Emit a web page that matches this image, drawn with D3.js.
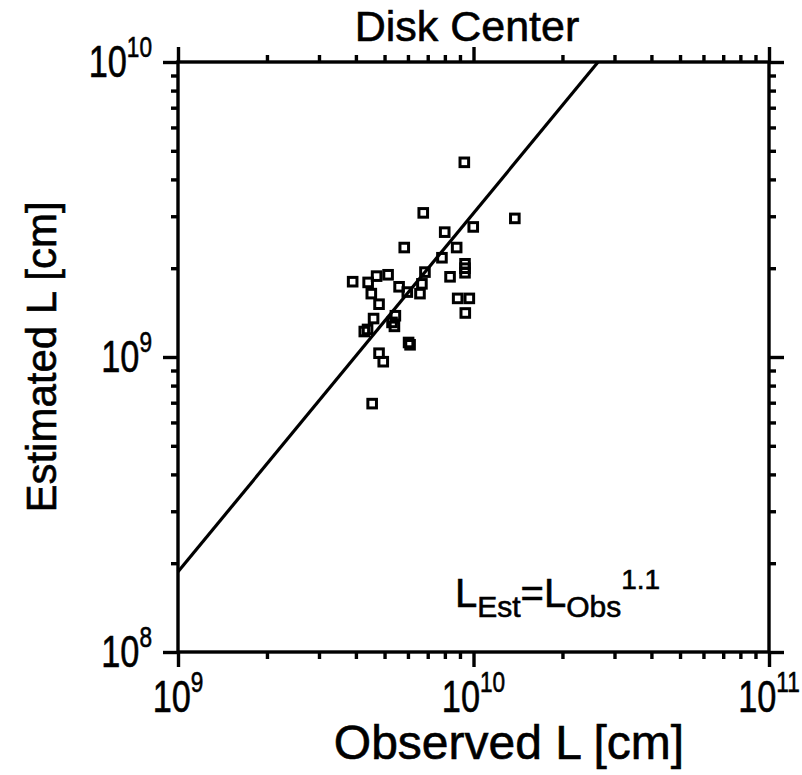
<!DOCTYPE html>
<html>
<head>
<meta charset="utf-8">
<script src="https://cdn.jsdelivr.net/npm/d3@7"></script>
<style>
  body { margin: 0; background: #fff; }
  text { font-family: "Liberation Sans", Arial, Helvetica, sans-serif; fill: #000;
         stroke: #000; stroke-width: 0.6px; }
</style>
</head>
<body>
<svg width="802" height="775"></svg>
<script>
// observed vs estimated loop length [cm]
const observedL = [9.31e9, 6.76e9, 1.38e10, 9.98e9, 7.99e9, 5.83e9, 8.77e9, 7.82e9,
  9.36e9, 9.36e9, 9.36e9, 6.85e9, 8.33e9, 3.90e9, 4.70e9, 5.14e9, 4.40e9, 5.60e9,
  6.69e9, 5.97e9, 6.59e9, 4.51e9, 4.79e9, 8.84e9, 9.68e9, 9.38e9, 4.59e9, 5.44e9,
  5.30e9, 5.40e9, 4.27e9, 4.38e9, 6.03e9, 6.10e9, 4.79e9, 4.95e9, 4.54e9];
const estimatedL = [4.57e9, 3.08e9, 2.95e9, 2.76e9, 2.65e9, 2.35e9, 2.35e9, 2.17e9,
  2.07e9, 2.00e9, 1.93e9, 1.94e9, 1.87e9, 1.80e9, 1.88e9, 1.90e9, 1.79e9, 1.73e9,
  1.77e9, 1.66e9, 1.64e9, 1.64e9, 1.51e9, 1.58e9, 1.58e9, 1.41e9, 1.35e9, 1.38e9,
  1.31e9, 1.27e9, 1.22e9, 1.24e9, 1.12e9, 1.10e9, 1.03e9, 9.64e8, 6.95e8];

// fit line end points
const fitObs = [1e9, 2.64e10];
const fitEst = [1.87e8, 1e10];

const xMajor = [1e9, 1e10, 1e11];
const yMajor = [1e8, 1e9, 1e10];

const svg = d3.select("svg");
const x = d3.scaleLog().domain([1e9, 1e11]).range([178, 769]);
const y = d3.scaleLog().domain([1e8, 1e10]).range([652, 62]);

// minor ticks 2..9 in each decade
function minors(dom) {
  const out = [];
  for (let e = Math.log10(dom[0]); e < Math.log10(dom[1]); e++)
    for (let k = 2; k < 10; k++) out.push(k * Math.pow(10, e));
  return out;
}

function drawAxis(gen, tx, ty, vals, size) {
  const g = svg.append("g").attr("transform", `translate(${tx},${ty})`)
    .call(gen.tickValues(vals).tickSize(size).tickSizeOuter(0).tickFormat(""));
  g.select(".domain").remove();
  g.selectAll("line").attr("stroke", "#000").attr("stroke-width", 3.4);
}

[[d3.axisBottom(x), 0, 652], [d3.axisTop(x), 0, 62]].forEach(a => {
  drawAxis(a[0], a[1], a[2], minors(x.domain()), 7);
  drawAxis(a[0], a[1], a[2], xMajor, 15);
});
[[d3.axisLeft(y), 178, 0], [d3.axisRight(y), 769, 0]].forEach(a => {
  drawAxis(a[0], a[1], a[2], minors(y.domain()), 7);
  drawAxis(a[0], a[1], a[2], yMajor, 15);
});

// frame
svg.append("rect")
  .attr("x", x.range()[0]).attr("y", y.range()[1])
  .attr("width", x.range()[1] - x.range()[0])
  .attr("height", y.range()[0] - y.range()[1])
  .attr("fill", "none").attr("stroke", "#000").attr("stroke-width", 3.4);

// tick labels (narrow face, like the original)
const fs = 44, sup = 29, sx = 0.78;
xMajor.forEach(v => {
  const e = Math.round(Math.log10(v));
  const g = svg.append("g").attr("transform", `translate(${x(v)},712) scale(${sx},1)`);
  const t = g.append("text").attr("text-anchor", "middle").attr("font-size", fs);
  t.append("tspan").text("10");
  t.append("tspan").attr("font-size", sup).attr("dy", -20).text(e);
});
yMajor.forEach(v => {
  const e = Math.round(Math.log10(v));
  const g = svg.append("g").attr("transform", `translate(152,${y(v) + 15}) scale(${sx},1)`);
  const t = g.append("text").attr("text-anchor", "end").attr("font-size", fs);
  t.append("tspan").text("10");
  t.append("tspan").attr("font-size", sup).attr("dy", -20).text(e);
});

// fit line
svg.append("path")
  .datum(fitObs.map((o, i) => [o, fitEst[i]]))
  .attr("d", d3.line().x(d => x(d[0])).y(d => y(d[1])))
  .attr("fill", "none").attr("stroke", "#000").attr("stroke-width", 3.2);

// data squares
svg.append("g").selectAll("rect")
  .data(observedL.map((o, i) => [o, estimatedL[i]]))
  .join("rect")
  .attr("x", d => x(d[0]) - 4.3).attr("y", d => y(d[1]) - 4.3)
  .attr("width", 8.6).attr("height", 8.6)
  .attr("fill", "none").attr("stroke", "#000").attr("stroke-width", 3);

// titles
svg.append("text").attr("x", 467).attr("y", 41).attr("text-anchor", "middle")
  .attr("font-size", 43).text("Disk Center");
svg.append("text").attr("x", 509).attr("y", 759).attr("text-anchor", "middle")
  .attr("font-size", 48).text("Observed L [cm]");
svg.append("text").attr("transform", "translate(56,357) rotate(-90)")
  .attr("text-anchor", "middle").attr("font-size", 42).text("Estimated L [cm]");

// relation label
const lab = svg.append("text").attr("x", 455).attr("y", 607).attr("font-size", 40);
lab.append("tspan").text("L");
lab.append("tspan").attr("font-size", 30).attr("dy", 10).text("Est");
lab.append("tspan").attr("dy", -10).text("=L");
lab.append("tspan").attr("font-size", 30).attr("dy", 10).text("Obs");
lab.append("tspan").attr("font-size", 28).attr("dy", -28).text("1.1");
</script>
</body>
</html>
